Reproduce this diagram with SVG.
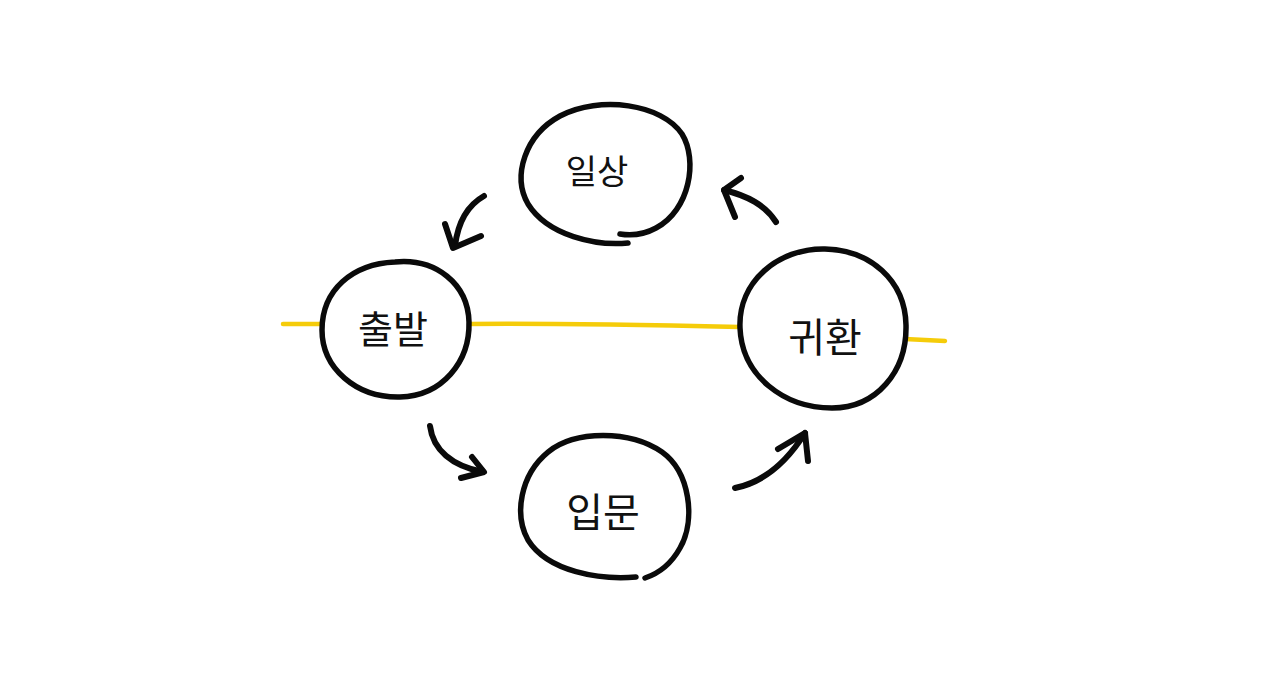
<svg xmlns="http://www.w3.org/2000/svg" width="1280" height="690" viewBox="0 0 1280 690">
<style>
.node{fill:#fff;stroke:#0a0a0a;stroke-width:5.5;stroke-linecap:round;stroke-linejoin:round}
.lbl{font-family:"Noto Sans CJK KR","Noto Sans",sans-serif;font-weight:400;fill:#111;text-anchor:middle}
.arr{fill:none;stroke:#0a0a0a;stroke-width:6;stroke-linecap:round;stroke-linejoin:round}
.axis{fill:none;stroke:#f5cc0a;stroke-width:4.5;stroke-linecap:round}
</style>
<rect width="1280" height="690" fill="#fff"/>
<g id="axis">
<path class="axis" d="M283 324 L322 324"/>
<path class="axis" d="M468 324 C560 323 650 325 740 327"/>
<path class="axis" d="M905 339 L945 341"/>
</g>
<g id="connectors">
<path class="arr" d="M484 196 C468 205 458 222 455 246"/>
<path class="arr" d="M445 224 L453 248 L481 236"/>
<path class="arr" d="M776 222 C765 205 748 196 724 190"/>
<path class="arr" d="M741 178 L724 190 L735 217"/>
<path class="arr" d="M430 426 C433 450 452 466 483 472"/>
<path class="arr" d="M472 457 L484 472 L461 478"/>
<path class="arr" d="M735 488 C765 482 788 460 805 433"/>
<path class="arr" d="M778 449 L805 433 L808 461"/>
</g>
<g id="node-ilsang">
<path class="node" d="M628 243 C596 246 548 236 528 204 C512 176 525 135 560 116 C600 95 662 104 682 134 C698 160 690 210 656 228 C645 234 632 236 620 234"/>
<text class="lbl" x="597" y="184" font-size="34">일상</text>
</g>
<g id="node-chulbal">
<path class="node" d="M395 262 C436 258 468 284 469 322 C470 362 442 396 400 397 C356 398 322 368 322 330 C322 290 352 264 395 262 Z"/>
<text class="lbl" x="393" y="343" font-size="38">출발</text>
</g>
<g id="node-ipmun">
<path class="node" d="M636 577 C600 580 548 572 528 540 C514 515 520 475 548 452 C575 430 630 430 662 452 C690 472 696 520 680 548 C670 566 657 574 645 578"/>
<text class="lbl" x="603" y="527" font-size="40">입문</text>
</g>
<g id="node-gwihwan">
<path class="node" d="M825 249 C870 250 905 280 906 325 C907 372 876 408 832 408 C784 408 742 376 740 328 C738 282 778 248 825 249 Z"/>
<text class="lbl" x="825" y="352" font-size="40">귀환</text>
</g>
</svg>
